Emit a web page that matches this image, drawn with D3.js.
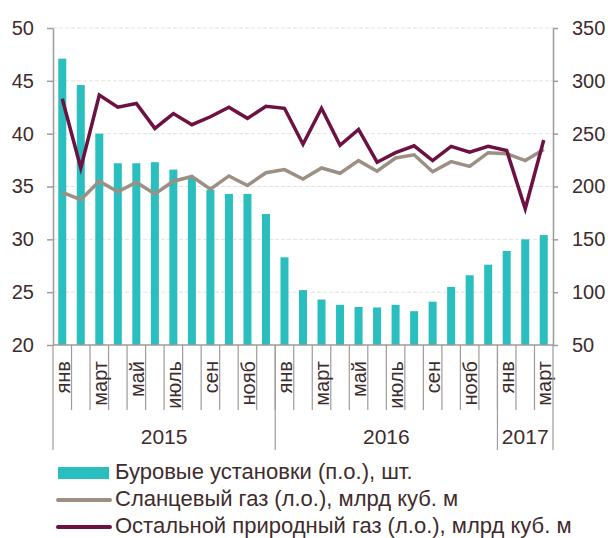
<!DOCTYPE html>
<html>
<head>
<meta charset="utf-8">
<script src="https://cdn.jsdelivr.net/npm/d3@7"></script>
<style>
  body { margin: 0; background: #fff; }
  svg { display: block; font-family: "Liberation Sans", Arial, sans-serif; }
</style>
</head>
<body>
<svg id="chart" width="608" height="538"></svg>
<script>
// months Jan 2015 .. Mar 2017
const months = ["янв", "фев", "март", "апр", "май", "июнь", "июль", "авг", "сен", "окт", "нояб", "дек",
                "янв", "фев", "март", "апр", "май", "июнь", "июль", "авг", "сен", "окт", "нояб", "дек",
                "янв", "фев", "март"];
const years = [
  {label: "2015", from: 0, to: 12},
  {label: "2016", from: 12, to: 24},
  {label: "2017", from: 24, to: 27}
];

// rigs, right axis
const rigs = [321, 296, 250, 222, 222, 223, 216, 209, 197, 193, 193, 174,
              133, 102, 93, 88, 86, 85.5, 88, 82, 91, 105, 116, 126,
              139, 150, 154];
// shale gas, left axis, bcm
const shaleGas = [34.45, 33.75, 35.5, 34.5, 35.4, 34.3, 35.5, 35.95, 34.75, 36.0, 35.1, 36.3,
                  36.6, 35.7, 36.75, 36.25, 37.45, 36.45, 37.7, 38.0, 36.4, 37.35, 36.9, 38.2,
                  38.1, 37.45, 38.5];
// other natural gas, left axis, bcm
const otherGas = [43.3, 36.75, 43.65, 42.5, 42.85, 40.5, 41.9, 40.85, 41.6, 42.5, 41.45, 42.6,
                  42.4, 39.0, 42.4, 38.9, 40.4, 37.3, 38.2, 38.85, 37.45, 38.8, 38.25, 38.8,
                  38.4, 32.9, 39.4];

const leftTicks = [20, 25, 30, 35, 40, 45, 50];
const rightTicks = [50, 100, 150, 200, 250, 300, 350];

const legendItems = [
  {label: "Буровые установки (п.о.), шт.", type: "bar", color: "#2abebe"},
  {label: "Сланцевый газ (л.о.), млрд куб. м", type: "line", color: "#9c9085"},
  {label: "Остальной природный газ (л.о.), млрд куб. м", type: "line", color: "#6c1142"}
];

const textColor = "#3e2c2c";
const axisColor = "#a09a9a";

const svg = d3.select("#chart");
const plotLeft = 53, plotRight = 553, plotTop = 28, plotBottom = 345;

const x = d3.scaleBand().domain(d3.range(months.length)).range([plotLeft, plotRight]).padding(0);
const yL = d3.scaleLinear().domain([20, 50]).range([plotBottom, plotTop]);
const yR = d3.scaleLinear().domain([50, 350]).range([plotBottom, plotTop]);

// gridlines
svg.append("g")
  .selectAll("line")
  .data(leftTicks.filter(d => d > 20))
  .join("line")
  .attr("x1", plotLeft).attr("x2", plotRight)
  .attr("y1", d => yL(d)).attr("y2", d => yL(d))
  .attr("stroke", "#e3e0e0")
  .attr("stroke-width", 1)
  .attr("stroke-dasharray", "4,2");

// bars
const barW = 8;
svg.append("g")
  .selectAll("rect")
  .data(rigs)
  .join("rect")
  .attr("x", (d, i) => x(i) + x.bandwidth() / 2 - barW / 2)
  .attr("width", barW)
  .attr("y", d => yR(d))
  .attr("height", d => yR(50) - yR(d))
  .attr("fill", legendItems[0].color);

// lines
const line = d3.line()
  .x((d, i) => x(i) + x.bandwidth() / 2)
  .y(d => yL(d));

[[shaleGas, legendItems[1].color], [otherGas, legendItems[2].color]].forEach(([data, color]) => {
  svg.append("path")
    .datum(data)
    .attr("d", line)
    .attr("fill", "none")
    .attr("stroke", color)
    .attr("stroke-width", 3.5)
    .attr("stroke-linejoin", "miter");
});

// left axis
const gL = svg.append("g")
  .attr("transform", `translate(${plotLeft},0)`)
  .call(d3.axisLeft(yL).tickValues(leftTicks).tickSize(6).tickPadding(13).tickSizeOuter(0));
// right axis
const gR = svg.append("g")
  .attr("transform", `translate(${plotRight},0)`)
  .call(d3.axisRight(yR).tickValues(rightTicks).tickSize(5).tickPadding(14).tickSizeOuter(0));

[gL, gR].forEach(g => {
  g.select(".domain").attr("stroke", axisColor).attr("stroke-width", 1.5);
  g.selectAll(".tick line").attr("stroke", axisColor).attr("stroke-width", 1.5);
  g.selectAll(".tick text")
    .attr("fill", textColor)
    .style("font-size", "20px");
});

// bottom axis line
svg.append("line")
  .attr("x1", plotLeft).attr("x2", plotRight)
  .attr("y1", plotBottom).attr("y2", plotBottom)
  .attr("stroke", axisColor).attr("stroke-width", 1.5);

// month separators
const gx = svg.append("g");
gx.selectAll("line.month")
  .data(d3.range(1, months.length))
  .join("line")
  .attr("class", "month")
  .attr("x1", i => x(i)).attr("x2", i => x(i))
  .attr("y1", plotBottom).attr("y2", 410)
  .attr("stroke", axisColor).attr("stroke-width", 1.2);

// month labels, every other month
gx.selectAll("text.month")
  .data(d3.range(months.length).filter(i => i % 2 === 0))
  .join("text")
  .attr("class", "month")
  .attr("transform", i => `translate(${x(i) + x.bandwidth() / 2 + 7.5},361) rotate(-90)`)
  .attr("text-anchor", "end")
  .attr("fill", textColor)
  .style("font-size", "20px")
  .text(i => months[i]);

// year separators and labels
const yearEdges = [0].concat(years.map(y => y.to));
gx.selectAll("line.year")
  .data(yearEdges)
  .join("line")
  .attr("class", "year")
  .attr("x1", i => i === months.length ? plotRight : x(i))
  .attr("x2", i => i === months.length ? plotRight : x(i))
  .attr("y1", plotBottom).attr("y2", 450)
  .attr("stroke", axisColor).attr("stroke-width", 1.2);

gx.selectAll("text.year")
  .data(years)
  .join("text")
  .attr("class", "year")
  .attr("x", d => {
    const a = x(d.from);
    const b = d.to === months.length ? plotRight : x(d.to);
    return (a + b) / 2;
  })
  .attr("y", 444)
  .attr("text-anchor", "middle")
  .attr("fill", textColor)
  .style("font-size", "21px")
  .text(d => d.label);

// legend
const lg = svg.append("g");
legendItems.forEach((d, i) => {
  const cy = 473 + i * 27;
  if (d.type === "bar") {
    lg.append("rect")
      .attr("x", 58).attr("y", cy - 6)
      .attr("width", 51).attr("height", 12)
      .attr("fill", d.color);
  } else {
    lg.append("line")
      .attr("x1", 58).attr("x2", 110)
      .attr("y1", cy).attr("y2", cy)
      .attr("stroke", d.color).attr("stroke-width", 4)
      .attr("stroke-linecap", "round");
  }
  lg.append("text")
    .attr("x", 115).attr("y", cy + 6)
    .attr("fill", textColor)
    .style("font-size", "22px")
    .text(d.label);
});
</script>
</body>
</html>
